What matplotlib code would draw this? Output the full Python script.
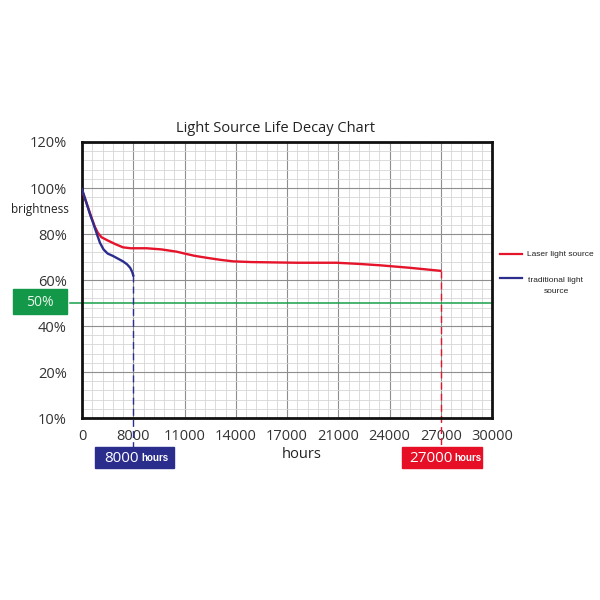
import matplotlib
matplotlib.use("Agg")
import matplotlib.pyplot as plt
from matplotlib.patches import Rectangle
from matplotlib.transforms import blended_transform_factory
from matplotlib.ticker import MultipleLocator

plt.rcParams['font.family'] = ['Open Sans', 'DejaVu Sans']

# x axis is evenly spaced slots with uneven hour labels
x_labels = ['0', '8000', '11000', '14000', '17000', '21000', '24000', '27000', '30000']
y_labels = ['10%', '20%', '40%', '60%', '80%', '100%', '120%']
y_ticks = [0, 20, 40, 60, 80, 100, 120]

# laser light source (slot position, brightness %)
laser_x = [0, 0.08, 0.18, 0.25, 0.31, 0.38, 0.5, 0.65, 0.8, 0.95, 1.26, 1.55, 1.85, 2.0,
           2.2, 2.45, 2.69, 2.95, 3.3, 4.19, 4.97, 5.4, 5.81, 6.4, 6.99]
laser_y = [99, 94, 87.5, 83.2, 80.5, 78.6, 77.2, 75.6, 74.2, 73.8, 73.8, 73.3, 72.3, 71.5,
           70.5, 69.6, 68.8, 68.1, 67.8, 67.5, 67.5, 67.0, 66.4, 65.3, 64.0]

# traditional light source
trad_x = [0, 0.08, 0.15, 0.22, 0.29, 0.35, 0.42, 0.5, 0.6, 0.7, 0.8, 0.88, 0.94, 0.98, 1.0]
trad_y = [99.5, 94, 89, 84.6, 80, 76.2, 73.3, 71.5, 70.5, 69.3, 68.1, 66.8, 65.3, 63.5, 62]

laser_end = 7      # 27000 hours slot
trad_end = 1       # 8000 hours slot
half_level = 50

red = '#e5142b'
blue = '#2c2e8e'
green = '#17a04a'

fig = plt.figure(figsize=(6, 6), dpi=100)
ax = fig.add_axes([82/600, 1-418/600, 410/600, 276/600])

ax.set_xlim(0, 8)
ax.set_ylim(0, 120)
ax.set_xticks(range(len(x_labels)))
ax.set_xticklabels(x_labels)
ax.set_yticks(y_ticks)
ax.set_yticklabels(y_labels)
ax.xaxis.set_minor_locator(MultipleLocator(0.2))
ax.yaxis.set_minor_locator(MultipleLocator(4))
ax.grid(which='major', color='#8e8e8e', lw=0.8)
ax.grid(which='minor', color='#d6d6d6', lw=0.6)
ax.set_axisbelow(True)
ax.tick_params(which='both', length=0)
ax.tick_params(axis='x', pad=8, labelsize=10.5, labelcolor='#333333')
ax.tick_params(axis='y', pad=11, labelsize=10.5, labelcolor='#333333')
for s in ax.spines.values():
    s.set_linewidth(2)
    s.set_color('#111111')

# 50% line and label box
ax.plot([-0.23, 8], [half_level, half_level], color=green, lw=1.1, clip_on=False)
ax.add_patch(Rectangle((-1.35, 45.2), 1.06, 10.9, color='#13984a', clip_on=False))
ax.text(-0.82, half_level, '50%', color='#e8f5e8', fontsize=10, ha='center', va='center')

# curves
ax.plot(laser_x, laser_y, color=red, lw=1.7, zorder=5, solid_joinstyle='round')
ax.plot(trad_x, trad_y, color=blue, lw=1.7, zorder=5, solid_joinstyle='round')

# dashed end markers
ax.plot([laser_end, laser_end], [laser_y[-1], -13], color=red, lw=1, ls=(0, (5, 3)), clip_on=False)
ax.plot([trad_end, trad_end], [trad_y[-1], -12.6], color=blue, lw=1, ls=(0, (5, 3)), clip_on=False)

# hour boxes below the axis
tr = blended_transform_factory(ax.transData, fig.transFigure)
ax.add_patch(Rectangle((0.254, 1-468/600), 1.54, 21/600, color='#2a2d8c', transform=tr, clip_on=False))
ax.add_patch(Rectangle((6.24, 1-468/600), 1.56, 21/600, color='#e60f25', transform=tr, clip_on=False))
ax.text(0.44, 1-458/600, '8000', transform=tr, color='white', fontsize=11, va='center', ha='left')
ax.text(1.15, 1-458/600, 'hours', transform=tr, color='white', fontsize=7, va='center', ha='left',
        family=['Liberation Sans'], weight='bold')
ax.text(6.38, 1-458/600, '27000', transform=tr, color='white', fontsize=11, va='center', ha='left')
ax.text(7.26, 1-458/600, 'hours', transform=tr, color='white', fontsize=7, va='center', ha='left',
        family=['Liberation Sans'], weight='bold')

# titles and axis labels
fig.text(276/600, 1-129/600, 'Light Source Life Decay Chart', ha='center', va='center',
         fontsize=10.5, color='#222222')
fig.text(40/600, 1-209/600, 'brightness', ha='center', va='center', fontsize=8.5, color='#222222')
fig.text(302/600, 1-454/600, 'hours', ha='center', va='center', fontsize=10.5, color='#222222')

# legend drawn by hand
fig.add_artist(plt.Line2D([500/600, 522/600], [1-254/600, 1-254/600], color=red, lw=1.6))
fig.add_artist(plt.Line2D([500/600, 522/600], [1-278/600, 1-278/600], color=blue, lw=1.6))
fig.text(527/600, 1-254/600, 'Laser light source', fontsize=6, va='center', ha='left',
         family=['Liberation Sans'], color='#222222')
fig.text(556/600, 1-286/600, 'traditional light\nsource', fontsize=6, va='center', ha='center',
         multialignment='center', linespacing=1.7, family=['Liberation Sans'], color='#222222')

fig.savefig('out.png', dpi=100, facecolor='white')
